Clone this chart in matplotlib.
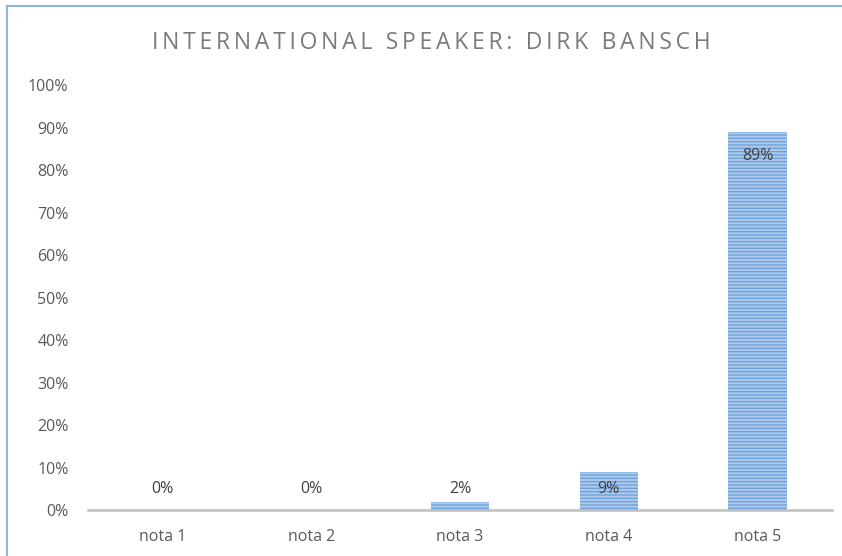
import matplotlib
matplotlib.use("Agg")
import matplotlib.pyplot as plt
from matplotlib.lines import Line2D

categories = ["nota 1", "nota 2", "nota 3", "nota 4", "nota 5"]
values = [0, 0, 2, 9, 89]
labels = ["0%", "0%", "2%", "9%", "89%"]
yticks = list(range(0, 101, 10))
title = "INTERNATIONAL SPEAKER: DIRK BANSCH"

plt.rcParams['font.family'] = ['Open Sans', 'DejaVu Sans']
plt.rcParams['hatch.linewidth'] = 1.0
plt.rcParams['hatch.color'] = '#6fa2d8'

fig = plt.figure(figsize=(8.42, 5.56), dpi=100)
ax = fig.add_axes([0.1045, 0.0827, 0.8835, 0.7643])

x = list(range(len(categories)))
bars = ax.bar(x, values, width=0.39, color='#aecbee', edgecolor='#6fa2d8',
              hatch='-----', linewidth=0)

for xi, v, lab in zip(x, values, labels):
    y = max(v - 5.8, 4.9)
    ax.text(xi, y, lab, ha='center', va='center', fontsize=11.5, color='#404040')

ax.set_xlim(-0.5, len(categories) - 0.5)
ax.set_ylim(0, 100)
ax.set_yticks(yticks)
ax.set_yticklabels(["%d%%" % t for t in yticks])
ax.set_xticks(x)
ax.set_xticklabels(categories)
ax.tick_params(axis='both', length=0, labelsize=11.5, labelcolor='#595959')
ax.tick_params(axis='y', pad=14)
ax.tick_params(axis='x', pad=14)

for s in ['top', 'right', 'left']:
    ax.spines[s].set_visible(False)
ax.spines['bottom'].set_color('#bfbfbf')
ax.spines['bottom'].set_linewidth(1.8)

# spaced-out title like the Excel original
spaced = "\u2009".join(title)
fig.text(0.512, 0.922, spaced, ha='center', va='center',
         fontsize=16.5, color='#7a7a7a')

# chart frame (only left and top edges visible)
fig.add_artist(Line2D([7 / 842, 7 / 842], [0, 1 - 6 / 556], color='#8fb4e3', lw=1.5))
fig.add_artist(Line2D([7 / 842, 1], [1 - 6 / 556, 1 - 6 / 556], color='#8fb4e3', lw=1.5))

fig.savefig('out.png', dpi=100)
